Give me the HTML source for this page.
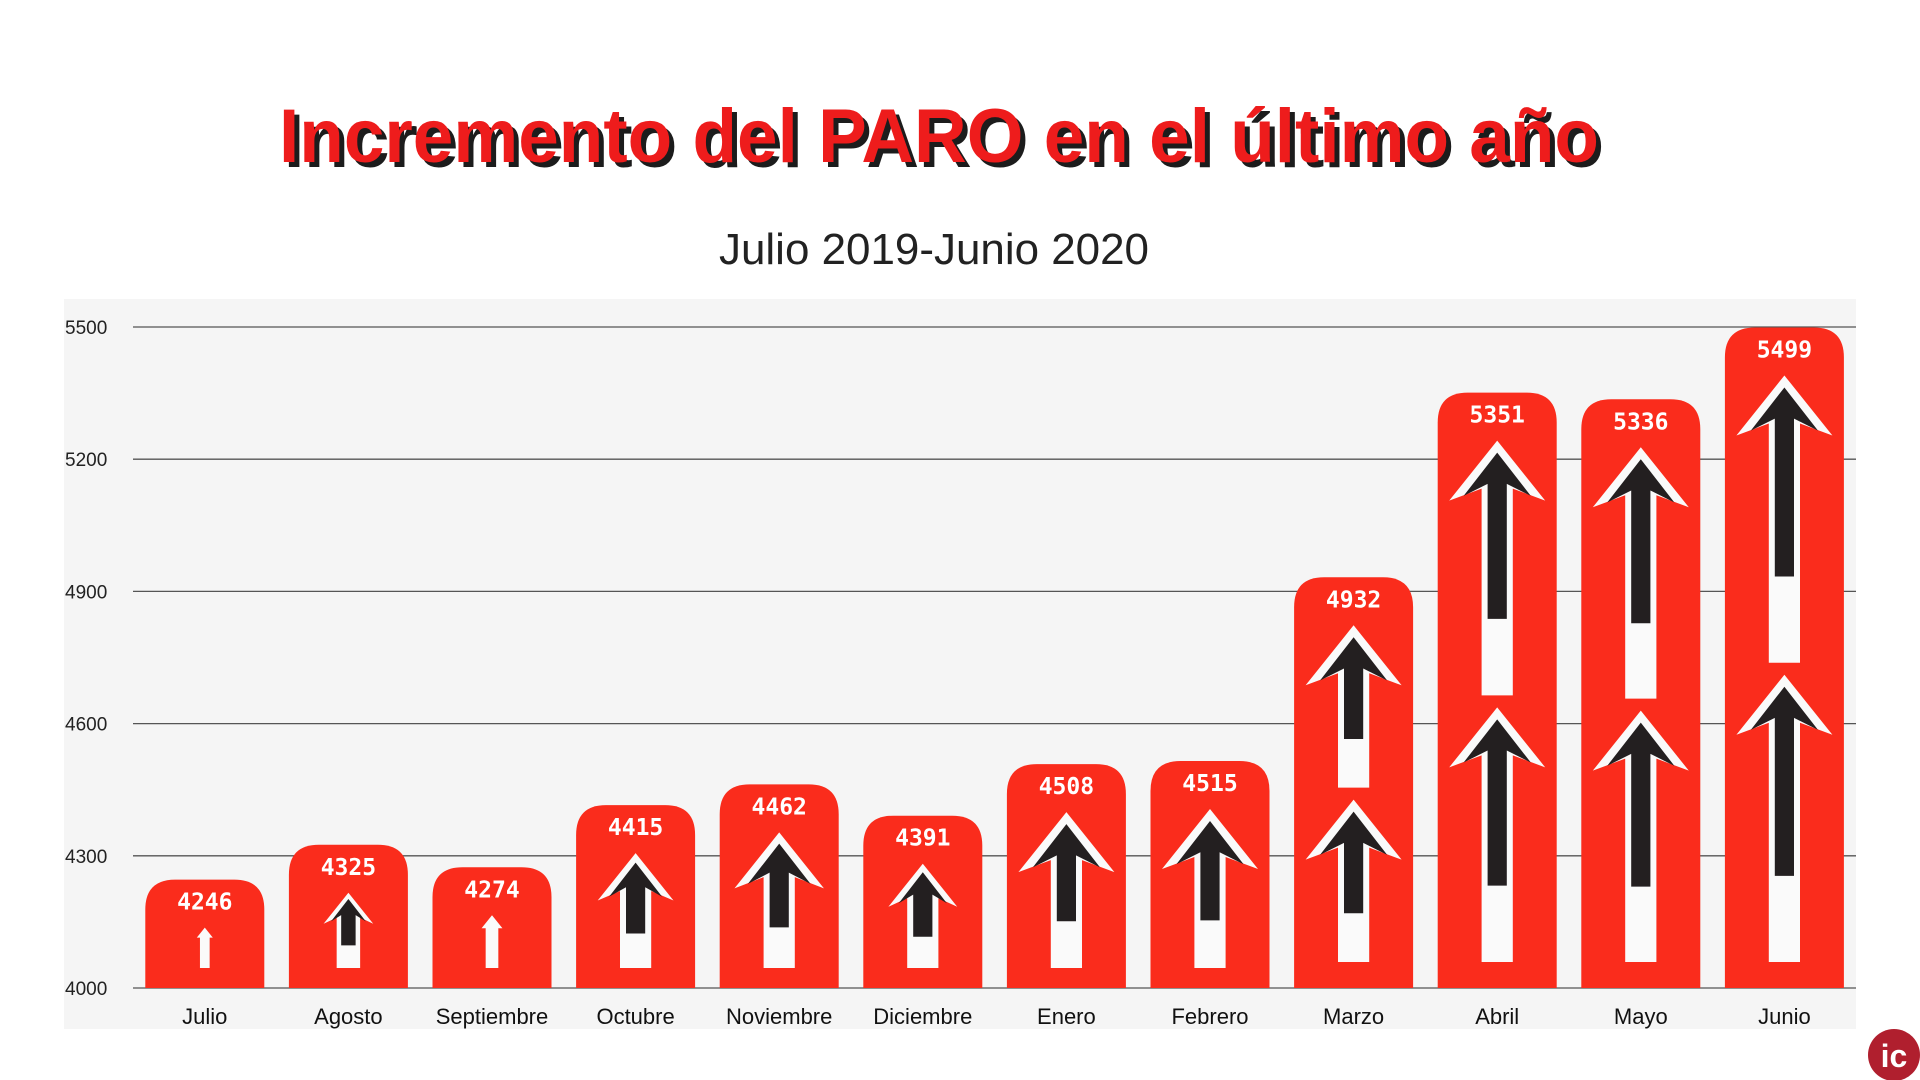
<!DOCTYPE html>
<html><head><meta charset="utf-8">
<style>
html,body{margin:0;padding:0;background:#fff;width:1920px;height:1080px;overflow:hidden}
svg{display:block}
</style></head>
<body>
<svg id="chart" width="1920" height="1080" xmlns="http://www.w3.org/2000/svg">
  <g>
    <text x="284" y="167" textLength="1320" lengthAdjust="spacingAndGlyphs" font-family="Liberation Sans Narrow, Liberation Sans, sans-serif" font-weight="bold" font-size="76" fill="#1c1c1c">Incremento del PARO en el último año</text>
    <text x="279" y="162" textLength="1320" lengthAdjust="spacingAndGlyphs" font-family="Liberation Sans Narrow, Liberation Sans, sans-serif" font-weight="bold" font-size="76" fill="#ee1c1c">Incremento del PARO en el último año</text>
  </g>
  <text x="934" y="264" text-anchor="middle" font-family="Liberation Sans, sans-serif" font-size="44" fill="#222" textLength="430" lengthAdjust="spacingAndGlyphs">Julio 2019-Junio 2020</text>
  <rect x="64" y="299" width="1792" height="730" fill="#f5f5f5"/>
  <g id="grid"></g>
  <g id="bars"></g>
  <g>
    <circle cx="1894" cy="1055" r="26" fill="#b01f2e"/>
    <text x="1894" y="1067" text-anchor="middle" font-family="Liberation Sans, sans-serif" font-weight="bold" font-size="32" fill="#fff">ic</text>
  </g>
</svg>
<script>
const categories=["Julio","Agosto","Septiembre","Octubre","Noviembre","Diciembre","Enero","Febrero","Marzo","Abril","Mayo","Junio"];
const values=[4246,4325,4274,4415,4462,4391,4508,4515,4932,5351,5336,5499];
const yTicks=[4000,4300,4600,4900,5200,5500];
const NS="http://www.w3.org/2000/svg";
const yMin=4000,yMax=5500,y0=988,y1=327;
function yScale(v){return y0-(v-yMin)/(yMax-yMin)*(y0-y1);}
const bandStart=133,band=143.6,barW=119;
function xCenter(i){return bandStart+band*(i+0.5);}
function mk(tag,attrs,parent){const e=document.createElementNS(NS,tag);for(const k in attrs)e.setAttribute(k,attrs[k]);parent.appendChild(e);return e;}
const grid=document.getElementById('grid');
yTicks.forEach(t=>{
  const y=yScale(t);
  const l=mk('line',{x1:133,x2:1856,y1:y,y2:y,stroke:'#555','stroke-width':1.3},grid);
  
  
  const tx=mk('text',{x:65,y:y+7,'font-family':'Liberation Sans, sans-serif','font-size':19,fill:'#222'},grid);
  tx.textContent=t;
  
  
});
const bars=document.getElementById('bars');
function arrow(g,cx,top,bot,white){
  const h=bot-top, hw=Math.min(h*0.33,48), sw=Math.min(h*0.12,12);
  const headH=hw*1.25;
  if(white){
    mk('path',{d:`M${cx} ${top} L${cx+hw*0.6} ${top+headH*0.6} L${cx+sw} ${top+headH*0.6} L${cx+sw} ${bot} L${cx-sw} ${bot} L${cx-sw} ${top+headH*0.6} L${cx-hw*0.6} ${top+headH*0.6} Z`,fill:'#fafafa'},g);
    return;
  }
  mk('path',{d:`M${cx} ${top} L${cx+hw} ${top+headH} L${cx+sw*1.3} ${top+headH*0.8} L${cx+sw*1.3} ${bot} L${cx-sw*1.3} ${bot} L${cx-sw*1.3} ${top+headH*0.8} L${cx-hw} ${top+headH} Z`,fill:'#fafafa'},g);
  mk('path',{d:`M${cx} ${top+hw*0.25} L${cx+hw*0.7} ${top+headH*0.92} L${cx+sw*0.8} ${top+headH*0.72} L${cx+sw*0.8} ${bot-h*0.3} L${cx-sw*0.8} ${bot-h*0.3} L${cx-sw*0.8} ${top+headH*0.72} L${cx-hw*0.7} ${top+headH*0.92} Z`,fill:'#231f20'},g);
}
values.forEach((v,i)=>{
  const cx=xCenter(i), top=yScale(v), x=cx-barW/2, h=y0-top, r=30;
  const g=mk('g',{},bars);
  
  
  mk('path',{d:`M${x} ${y0} L${x} ${top+r} Q${x} ${top} ${x+r} ${top} L${x+barW-r} ${top} Q${x+barW} ${top} ${x+barW} ${top+r} L${x+barW} ${y0} Z`,fill:'#fa2c1c'},g);
  const aTop=top+42, aBot=y0-20;
  const n=v>4800?2:1;
  const white=(i===0||i===2);
  const seg=(aBot-aTop)/n;
  for(let k=0;k<n;k++){arrow(g,cx,aTop+seg*k+6,aTop+seg*(k+1)-(n>1?6:0),white);}
  const t=mk('text',{x:cx,y:top+30,'text-anchor':'middle','font-family':'DejaVu Sans Mono, Liberation Mono, monospace','font-weight':'bold','font-size':23,fill:'#fff'},g);
  t.textContent=v;
  
  
  const c=mk('text',{x:cx,y:1024,'text-anchor':'middle','font-family':'Liberation Sans, sans-serif','font-size':22,fill:'#111'},bars);
  c.textContent=categories[i];
  
  
});
</script>
</body></html>
